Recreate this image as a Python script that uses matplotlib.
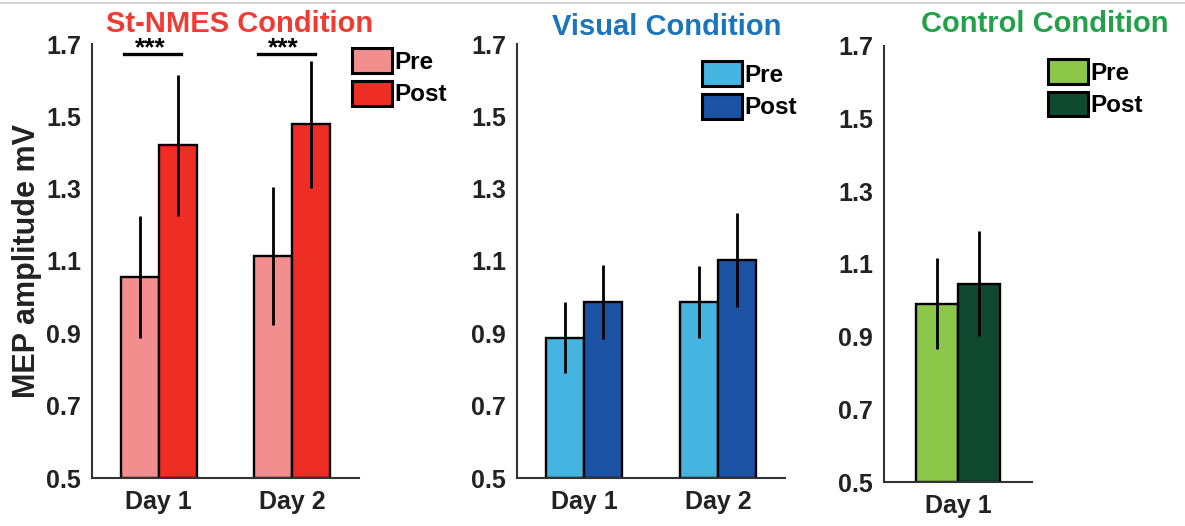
import matplotlib
matplotlib.use("Agg")
import matplotlib.pyplot as plt
from matplotlib.lines import Line2D

plt.rcParams['font.family'] = ['Liberation Sans', 'DejaVu Sans']
plt.rcParams['font.weight'] = 'bold'

# ---- data ----
days_two = ["Day 1", "Day 2"]
days_one = ["Day 1"]
series_labels = ["Pre", "Post"]

nmes_pre = [1.056, 1.114]
nmes_post = [1.420, 1.478]
nmes_pre_err = [0.168, 0.190]
nmes_post_err = [0.195, 0.175]

visual_pre = [0.888, 0.986]
visual_post = [0.986, 1.104]
visual_pre_err = [0.098, 0.100]
visual_post_err = [0.102, 0.130]

control_pre = [0.991]
control_post = [1.046]
control_pre_err = [0.125]
control_post_err = [0.145]

titles = ["St-NMES Condition", "Visual Condition", "Control Condition"]
title_colors = ["#EE3B33", "#1B75BB", "#23A14A"]
pre_colors = ["#F28E8E", "#45B4E0", "#8DC74A"]
post_colors = ["#EE2E24", "#1B52A4", "#0F4A30"]

yticks = [0.5, 0.7, 0.9, 1.1, 1.3, 1.5, 1.7]
ytick_labels = ["0.5", "0.7", "0.9", "1.1", "1.3", "1.5", "1.7"]
sig_label = "***"
sig_level = 1.671

W, H = 1185, 526
fig = plt.figure(figsize=(W / 100, H / 100), dpi=100)


def px_axes(left, right, top, bottom):
    return fig.add_axes([left / W, (H - bottom) / H, (right - left) / W, (bottom - top) / H])


panels = [
    dict(ax=px_axes(92, 359, 44, 478), days=days_two, pre=nmes_pre, post=nmes_post,
         pre_err=nmes_pre_err, post_err=nmes_post_err,
         leg=(0.975, 0.99), title_pos=(0.554, 1.045)),
    dict(ax=px_axes(517, 785, 44, 478), days=days_two, pre=visual_pre, post=visual_post,
         pre_err=visual_pre_err, post_err=visual_post_err,
         leg=(0.69, 0.96), title_pos=(0.56, 1.04)),
    dict(ax=px_axes(884, 1032, 46, 482), days=days_one, pre=control_pre, post=control_post,
         pre_err=control_pre_err, post_err=control_post_err,
         leg=(1.11, 0.97), title_pos=(1.088, 1.05)),
]

bw = 0.285
for i, p in enumerate(panels):
    ax = p["ax"]
    x = list(range(1, len(p["days"]) + 1))
    xpre = [v - bw / 2 for v in x]
    xpost = [v + bw / 2 for v in x]
    b1 = ax.bar(xpre, [v - 0.5 for v in p["pre"]], bw, bottom=0.5, color=pre_colors[i],
                edgecolor="black", linewidth=1.7, label=series_labels[0], zorder=2)
    b2 = ax.bar(xpost, [v - 0.5 for v in p["post"]], bw, bottom=0.5, color=post_colors[i],
                edgecolor="black", linewidth=1.7, label=series_labels[1], zorder=2)
    ax.errorbar(xpre, p["pre"], yerr=p["pre_err"], fmt="none", ecolor="black",
                elinewidth=2.0, capsize=0, zorder=3)
    ax.errorbar(xpost, p["post"], yerr=p["post_err"], fmt="none", ecolor="black",
                elinewidth=2.0, capsize=0, zorder=3)
    ax.set_xlim(0.5, len(x) + 0.5)
    ax.set_ylim(0.5, 1.7)
    ax.set_yticks(yticks)
    ax.set_yticklabels(ytick_labels)
    ax.set_xticks(x)
    ax.set_xticklabels(p["days"])
    ax.tick_params(axis="both", length=0, labelsize=18, colors="#222222")
    ax.tick_params(axis="y", pad=8)
    ax.tick_params(axis="x", pad=9)
    for t in ax.get_xticklabels() + ax.get_yticklabels():
        t.set_fontweight("bold")
    for s in ["top", "right"]:
        ax.spines[s].set_visible(False)
    for s in ["left", "bottom"]:
        ax.spines[s].set_color("#333333")
        ax.spines[s].set_linewidth(1.5)
    ax.text(p["title_pos"][0], p["title_pos"][1], titles[i], transform=ax.transAxes,
            ha="center", va="center", fontsize=21, fontweight="bold", color=title_colors[i],
            clip_on=False)
    leg = ax.legend(handles=[b1, b2], loc="upper left", bbox_to_anchor=p["leg"],
                    frameon=False, fontsize=17.5, handlelength=1.65, handleheight=1.2,
                    handletextpad=0.1, labelspacing=0.28, borderpad=0, borderaxespad=0)
    for t in leg.get_texts():
        t.set_fontweight("bold")
    for h in leg.legend_handles:
        h.set_linewidth(2.2)

# significance markers on St-NMES panel
ax0 = panels[0]["ax"]
for d in range(len(days_two)):
    c = d + 1
    ax0.plot([c - 0.26, c + 0.17], [sig_level, sig_level], color="black", lw=2.4,
             clip_on=False, zorder=4)
    ax0.text(c - 0.065, sig_level - 0.002, sig_label, ha="center", va="baseline",
             fontsize=19, fontweight="bold", color="black", clip_on=False)

fig.text(27 / W, 1 - 261 / H, "MEP amplitude mV", rotation=90, ha="center", va="center",
         fontsize=22, fontweight="bold", color="#222222")

fig.add_artist(Line2D([0, 1], [1 - 3 / H, 1 - 3 / H], transform=fig.transFigure,
                      color="#cccccc", lw=1.2))

fig.savefig("out.png", dpi=100)
